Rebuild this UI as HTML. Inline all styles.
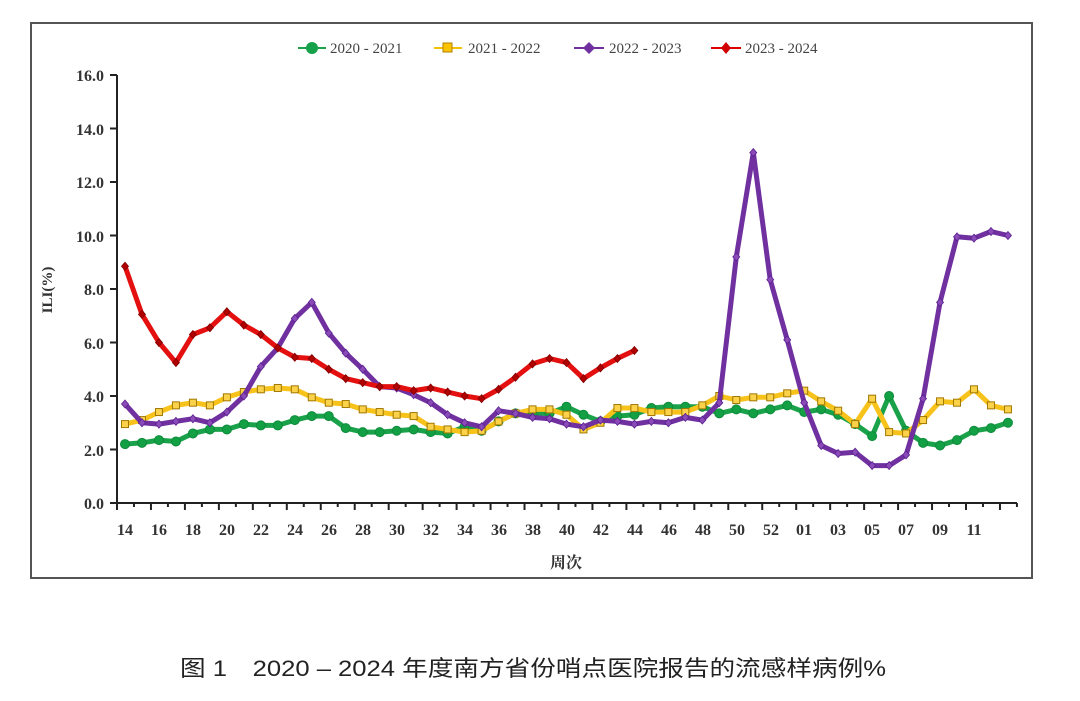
<!DOCTYPE html>
<html><head><meta charset="utf-8"><style>
html,body{margin:0;padding:0;background:#fff;width:1080px;height:701px;overflow:hidden}
svg{display:block}
.t{font-family:"Liberation Serif",serif;font-weight:bold;font-size:16px;fill:#333}
.lg{font-family:"Liberation Serif",serif;font-size:15px;fill:#444}
</style></head><body>
<svg id="s" width="1080" height="701" viewBox="0 0 1080 701" xmlns="http://www.w3.org/2000/svg">
<rect x="31" y="23" width="1001" height="555" fill="#fff" stroke="#555" stroke-width="2"/>
<g stroke="#222" stroke-width="2" fill="none">
<line x1="117" y1="75" x2="117" y2="503"/>
<line x1="117" y1="503" x2="1017" y2="503"/>
</g>
<g class="t" text-anchor="end">
<text x="104" y="81">16.0</text><text x="104" y="135">14.0</text><text x="104" y="188">12.0</text>
<text x="104" y="242">10.0</text><text x="104" y="295">8.0</text><text x="104" y="349">6.0</text>
<text x="104" y="402">4.0</text><text x="104" y="456">2.0</text><text x="104" y="509">0.0</text>
</g>
<g class="t" text-anchor="middle">
<text x="125" y="535">14</text><text x="159" y="535">16</text><text x="193" y="535">18</text><text x="227" y="535">20</text>
<text x="261" y="535">22</text><text x="295" y="535">24</text><text x="329" y="535">26</text><text x="363" y="535">28</text>
<text x="397" y="535">30</text><text x="431" y="535">32</text><text x="465" y="535">34</text><text x="499" y="535">36</text>
<text x="533" y="535">38</text><text x="567" y="535">40</text><text x="601" y="535">42</text><text x="635" y="535">44</text>
<text x="669" y="535">46</text><text x="703" y="535">48</text><text x="737" y="535">50</text><text x="771" y="535">52</text>
<text x="804" y="535">01</text><text x="838" y="535">03</text><text x="872" y="535">05</text><text x="906" y="535">07</text>
<text x="940" y="535">09</text><text x="974" y="535">11</text>
<text x="566" y="568" style="font-family:'Liberation Serif','Noto Serif CJK SC',serif;font-size:16px">周次</text>
</g>
<text class="t" transform="translate(52,290) rotate(-90)" text-anchor="middle" style="font-size:15px">ILI(%)</text>
<g id="ticks" stroke="#222" stroke-width="2"></g>
<g id="series"></g>
<g>
<line x1="298" y1="48" x2="326" y2="48" stroke="#1aa24a" stroke-width="2"/><circle cx="312" cy="48" r="6" fill="#15a04a"/>
<text class="lg" x="330" y="53">2020 - 2021</text>
<line x1="434" y1="48" x2="462" y2="48" stroke="#f5c000" stroke-width="2"/><rect x="443" y="43" width="9" height="9" fill="#fbc400" stroke="#b08000"/>
<text class="lg" x="468" y="53">2021 - 2022</text>
<line x1="574" y1="48" x2="604" y2="48" stroke="#7030a0" stroke-width="2"/><path d="M589 42 L595 48 L589 54 L583 48Z" fill="#7030a0"/>
<text class="lg" x="609" y="53">2022 - 2023</text>
<line x1="711" y1="48" x2="741" y2="48" stroke="#e00000" stroke-width="2"/><path d="M726 42 L731 48 L726 54 L721 48Z" fill="#d00000"/>
<text class="lg" x="745" y="53">2023 - 2024</text>
</g>
<text x="533" y="676" text-anchor="middle" textLength="706" lengthAdjust="spacingAndGlyphs" style="font-family:'Liberation Sans','Noto Sans CJK SC',sans-serif;font-size:22px;fill:#222">图 1　2020 – 2024 年度南方省份哨点医院报告的流感样病例%</text>
</svg>
<script>
var NS="http://www.w3.org/2000/svg";
function X(i){return 125+16.98*i}
function Y(v){return 503-26.75*v}
var tk=document.getElementById('ticks');
for(var i=0;i<=53;i++){var x=117+16.98*i;var l=document.createElementNS(NS,'line');l.setAttribute('x1',x);l.setAttribute('x2',x);l.setAttribute('y1',503);l.setAttribute('y2',i%2==0?510:507);tk.appendChild(l);}
for(var v=0;v<=16;v+=2){var l=document.createElementNS(NS,'line');l.setAttribute('x1',110);l.setAttribute('x2',117);l.setAttribute('y1',Y(v));l.setAttribute('y2',Y(v));tk.appendChild(l);}
var green=[2.2,2.25,2.35,2.3,2.6,2.75,2.75,2.95,2.9,2.9,3.1,3.25,3.25,2.8,2.65,2.65,2.7,2.75,2.65,2.6,2.85,2.7,3.05,3.35,3.35,3.35,3.6,3.3,3.05,3.25,3.3,3.55,3.6,3.6,3.6,3.35,3.5,3.35,3.5,3.65,3.4,3.5,3.3,2.95,2.5,4.0,2.7,2.25,2.15,2.35,2.7,2.8,3.0];
var yellow=[2.95,3.1,3.4,3.65,3.75,3.65,3.95,4.15,4.25,4.3,4.25,3.95,3.75,3.7,3.5,3.4,3.3,3.25,2.85,2.75,2.65,2.7,3.05,3.35,3.5,3.5,3.3,2.75,3.0,3.55,3.55,3.4,3.4,3.4,3.65,4.0,3.85,3.95,3.95,4.1,4.2,3.8,3.45,2.95,3.9,2.65,2.6,3.1,3.8,3.75,4.25,3.65,3.5];
var purple=[3.7,3.0,2.95,3.05,3.15,3.0,3.4,4.0,5.1,5.8,6.9,7.5,6.35,5.6,5.0,4.35,4.3,4.05,3.75,3.3,3.0,2.85,3.45,3.35,3.2,3.15,2.95,2.85,3.1,3.05,2.95,3.05,3.0,3.2,3.1,3.75,9.2,13.1,8.35,6.1,3.75,2.15,1.85,1.9,1.4,1.4,1.8,3.9,7.5,9.95,9.9,10.15,10.0];
var red=[8.85,7.05,6.0,5.25,6.3,6.55,7.15,6.65,6.3,5.8,5.45,5.4,5.0,4.65,4.5,4.35,4.35,4.2,4.3,4.15,4.0,3.9,4.25,4.7,5.2,5.4,5.25,4.65,5.05,5.4,5.7];
var g=document.getElementById('series');
function draw(d,col,mk){
 var pts=d.map(function(v,i){return X(i).toFixed(1)+','+Y(v).toFixed(1)}).join(' ');
 var p=document.createElementNS(NS,'polyline');p.setAttribute('points',pts);p.setAttribute('fill','none');p.setAttribute('stroke',col);p.setAttribute('stroke-width','5');p.setAttribute('stroke-linejoin','round');g.appendChild(p);
 d.forEach(function(v,i){var x=X(i),y=Y(v),e;
  if(mk=='c'){e=document.createElementNS(NS,'circle');e.setAttribute('cx',x);e.setAttribute('cy',y);e.setAttribute('r',4.5);e.setAttribute('fill','#13a045');e.setAttribute('stroke','#0d8a3a');}
  else if(mk=='s'){e=document.createElementNS(NS,'rect');e.setAttribute('x',x-3.5);e.setAttribute('y',y-3.5);e.setAttribute('width',7);e.setAttribute('height',7);e.setAttribute('fill','#fcd24a');e.setAttribute('stroke','#a07800');}
  else{e=document.createElementNS(NS,'path');e.setAttribute('d','M'+x+' '+(y-4)+'L'+(x+3.5)+' '+y+'L'+x+' '+(y+4)+'L'+(x-3.5)+' '+y+'Z');e.setAttribute('fill',mk=='p'?'#8a4ab8':'#b00000');e.setAttribute('stroke',mk=='p'?'#5a2090':'#800000');e.setAttribute('stroke-width','0.8');}
  g.appendChild(e);});
}
draw(green,'#1aa24a','c');
draw(yellow,'#f7c21a','s');
draw(purple,'#7030a0','p');
draw(red,'#e41010','r');
</script>
</body></html>
